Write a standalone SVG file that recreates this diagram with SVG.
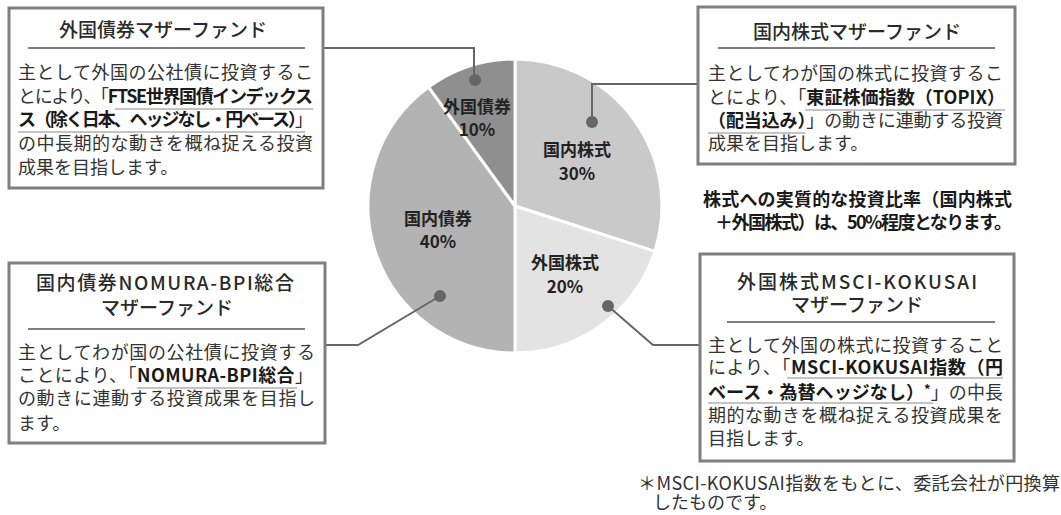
<svg xmlns="http://www.w3.org/2000/svg" width="1061" height="515" viewBox="0 0 1061 515">
<style>
text{font-family:"Noto Sans CJK JP","Noto Sans CJK SC",sans-serif;fill:#333}
.box{fill:#fff;stroke:#7f7f7f;stroke-width:3}
.sep{stroke:#555;stroke-width:1.3}
.ul{stroke:#8a8a8a;stroke-width:1.2}
.ttl{font-size:19px;font-weight:500;text-anchor:middle;fill:#2a2a2a}
.ttls{font-size:19px;font-weight:500;fill:#2a2a2a}
.bd{font-size:18px}
.b{font-weight:700;fill:#1a1a1a}
.pl{font-size:17px;font-weight:700;text-anchor:middle;fill:#222}
.slice{stroke:#fff;stroke-width:3;stroke-linejoin:round}
.con{fill:none;stroke:#666;stroke-width:2}
.dot{fill:#666}
.note{font-size:18px;font-weight:700;fill:#1a1a1a}
.fn{font-size:18px}
</style>
<rect width="1061" height="515" fill="#fff"/>

<g id="pie">
  <g id="slice-kokunai-kabushiki">
    <path class="slice" fill="#c9c9c9" d="M515,206 L515,59 A147,147 0 0 1 654.8,251.4 Z"/>
    <text class="pl" x="577" y="156">国内株式</text>
    <text class="pl" x="577" y="180">30%</text>
  </g>
  <g id="slice-gaikoku-kabushiki">
    <path class="slice" fill="#e3e3e3" d="M515,206 L654.8,251.4 A147,147 0 0 1 515,353 Z"/>
    <text class="pl" x="565" y="269">外国株式</text>
    <text class="pl" x="565" y="293">20%</text>
  </g>
  <g id="slice-kokunai-saiken">
    <path class="slice" fill="#b3b3b3" d="M515,206 L515,353 A147,147 0 0 1 428.6,87.1 Z"/>
    <text class="pl" x="438" y="225">国内債券</text>
    <text class="pl" x="438" y="248">40%</text>
  </g>
  <g id="slice-gaikoku-saiken">
    <path class="slice" fill="#8f8f8f" d="M515,206 L428.6,87.1 A147,147 0 0 1 515,59 Z"/>
    <text class="pl" x="477" y="113">外国債券</text>
    <text class="pl" x="477" y="136">10%</text>
  </g>
</g>

<g id="connectors">
  <path class="con" d="M323,48 H474 V80"/>
  <path class="con" d="M698,84 H592 V122"/>
  <path class="con" d="M323,345 H358 L440,296"/>
  <path class="con" d="M700,345 H653 L608,306"/>
  <circle class="dot" cx="475" cy="80" r="6"/>
  <circle class="dot" cx="592" cy="122" r="6"/>
  <circle class="dot" cx="440" cy="296" r="6"/>
  <circle class="dot" cx="608" cy="306" r="6"/>
</g>

<g id="box-gaikoku-saiken">
  <rect class="box" x="9" y="8" width="314" height="180"/>
  <text class="ttl" x="163" y="37">外国債券マザーファンド</text>
  <line class="sep" x1="28" y1="48" x2="305" y2="48"/>
  <text class="bd" x="18" y="79" textLength="295">主として外国の公社債に投資するこ</text>
  <text class="bd" x="18" y="103" textLength="295">とにより、「<tspan class="b">FTSE世界国債インデックス</tspan></text>
  <text class="bd" x="18" y="126" textLength="295"><tspan class="b">ス（除く日本、ヘッジなし・円ベース）</tspan>」</text>
  <text class="bd" x="18" y="150" textLength="295">の中長期的な動きを概ね捉える投資</text>
  <text class="bd" x="18" y="174">成果を目指します。</text>
  <line class="ul" x1="115" y1="109" x2="313" y2="109"/>
  <line class="ul" x1="18" y1="132" x2="305" y2="132"/>
</g>

<g id="box-kokunai-kabushiki">
  <rect class="box" x="698" y="7" width="317" height="157"/>
  <text class="ttl" x="857" y="39">国内株式マザーファンド</text>
  <line class="sep" x1="718" y1="48" x2="995" y2="48"/>
  <text class="bd" x="708" y="80" textLength="295">主としてわが国の株式に投資するこ</text>
  <text class="bd" x="708" y="104" textLength="297">とにより、「<tspan class="b">東証株価指数（TOPIX）</tspan></text>
  <text class="bd" x="708" y="127" textLength="295"><tspan class="b">（配当込み）</tspan>」の動きに連動する投資</text>
  <text class="bd" x="708" y="150">成果を目指します。</text>
  <line class="ul" x1="805" y1="110" x2="1005" y2="110"/>
  <line class="ul" x1="708" y1="133" x2="805" y2="133"/>
</g>

<g id="note">
  <text class="note" x="703" y="206" textLength="309">株式への実質的な投資比率（国内株式</text>
  <text class="note" x="715" y="229" textLength="297">＋外国株式）は、50%程度となります。</text>
</g>

<g id="box-kokunai-saiken">
  <rect class="box" x="9" y="263" width="316" height="180"/>
  <text class="ttls" x="36" y="290" textLength="258">国内債券NOMURA-BPI総合</text>
  <text class="ttl" x="167" y="315">マザーファンド</text>
  <line class="sep" x1="28" y1="329" x2="305" y2="329"/>
  <text class="bd" x="18" y="359" textLength="297">主としてわが国の公社債に投資する</text>
  <text class="bd" x="18" y="382" textLength="295">ことにより、「<tspan class="b">NOMURA-BPI総合</tspan>」</text>
  <text class="bd" x="18" y="405" textLength="297">の動きに連動する投資成果を目指し</text>
  <text class="bd" x="18" y="430">ます。</text>
  <line class="ul" x1="137" y1="388" x2="297" y2="388"/>
</g>

<g id="box-gaikoku-kabushiki">
  <rect class="box" x="700" y="254" width="314" height="207"/>
  <text class="ttls" x="737" y="289" textLength="240">外国株式MSCI-KOKUSAI</text>
  <text class="ttl" x="857" y="312">マザーファンド</text>
  <line class="sep" x1="727" y1="322" x2="995" y2="322"/>
  <text class="bd" x="708" y="352" textLength="295">主として外国の株式に投資すること</text>
  <text class="bd" x="708" y="374" textLength="295">により、「<tspan class="b">MSCI-KOKUSAI指数（円</tspan></text>
  <text class="bd" x="708" y="399" textLength="295"><tspan class="b">ベース・為替ヘッジなし）<tspan font-size="13" dy="-5">*</tspan></tspan><tspan dy="5">」の中長</tspan></text>
  <text class="bd" x="708" y="422" textLength="295">期的な動きを概ね捉える投資成果を</text>
  <text class="bd" x="708" y="445">目指します。</text>
  <line class="ul" x1="787" y1="378" x2="1003" y2="378"/>
  <line class="ul" x1="708" y1="403" x2="933" y2="403"/>
</g>

<g id="footnote">
  <text class="fn" x="638" y="490" textLength="422">＊MSCI-KOKUSAI指数をもとに、委託会社が円換算</text>
  <text class="fn" x="653" y="509">したものです。</text>
</g>
</svg>
